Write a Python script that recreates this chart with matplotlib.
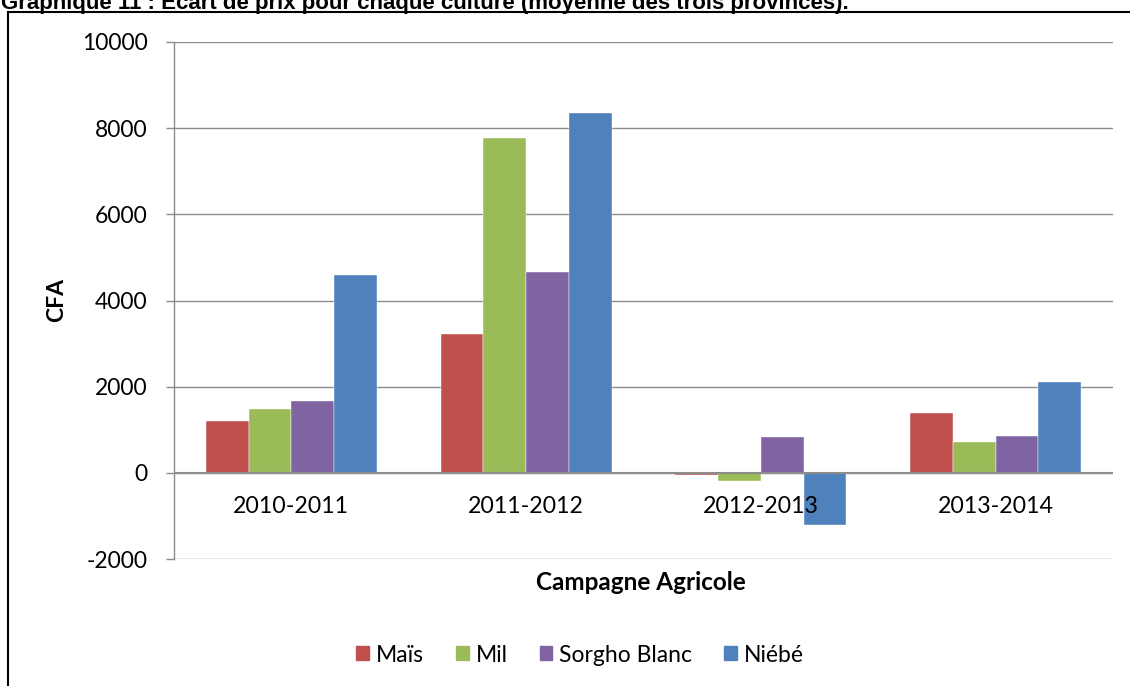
import matplotlib
matplotlib.use("Agg")
import matplotlib.pyplot as plt
import numpy as np
from matplotlib.patches import Rectangle
from matplotlib.lines import Line2D

categories = ["2010-2011", "2011-2012", "2012-2013", "2013-2014"]
series_names = ["Maïs", "Mil", "Sorgho Blanc", "Niébé"]
mais = [1210, 3230, -60, 1400]
mil = [1490, 7770, -200, 720]
sorgho = [1670, 4660, 840, 860]
niebe = [4590, 8360, -1200, 2110]
colors = ["#C0504D", "#9BBB59", "#8064A2", "#4F81BD"]
yticks = [-2000, 0, 2000, 4000, 6000, 8000, 10000]

W, H = 1130, 686
fig = plt.figure(figsize=(W / 100, H / 100), dpi=100)
plt.rcParams['font.family'] = ['Lato', 'DejaVu Sans']

def fx(px):
    return px / W

def fy(py):
    return 1 - py / H

ax = fig.add_axes([fx(174), fy(559), fx(1113) - fx(174), fy(42) - fy(559)])

x = np.arange(len(categories))
bw = 0.182
data = [mais, mil, sorgho, niebe]
for i, (vals, c, name) in enumerate(zip(data, colors, series_names)):
    ax.bar(x + (i - 1.5) * bw, vals, width=bw, color=c, label=name, zorder=3,
           edgecolor='white', linewidth=0.3)

ax.set_xlim(-0.5, len(categories) - 0.5)
ax.set_ylim(-2000, 10000)
ax.set_yticks(yticks)
ax.set_yticklabels([str(t) for t in yticks], fontsize=16.5)
ax.yaxis.grid(True, color='#8C8C8C', linewidth=1.0, zorder=0)
ax.set_axisbelow(True)
ax.tick_params(axis='y', length=6, color='#8C8C8C', width=1.0, pad=13)
ax.set_xticks([])
for s in ['top', 'right', 'bottom']:
    ax.spines[s].set_visible(False)
ax.spines['left'].set_color('#8C8C8C')
ax.spines['left'].set_linewidth(1.0)
ax.axhline(0, color='#8C8C8C', linewidth=1.5, zorder=4)

for xi, cat in zip(x, categories):
    ax.text(xi, -790, cat, ha='center', va='center', fontsize=16.7, zorder=5)

fig.text(fx(57), fy(300), "CFA", rotation=90, ha='center', va='center',
         fontsize=16.5, fontweight='bold')
fig.text(fx(641), fy(583), "Campagne Agricole", ha='center', va='center',
         fontsize=17.5, fontweight='bold')

handles = [Rectangle((0, 0), 1, 1, color=c) for c in colors]
fig.legend(handles, series_names, loc='center', bbox_to_anchor=(fx(580), fy(655)),
           ncol=4, frameon=False, fontsize=16.5, handlelength=0.55, handleheight=0.55,
           handletextpad=0.3, columnspacing=1.4)

fig.text(fx(1), fy(9), "Graphique 11 : Ecart de prix pour chaque culture (moyenne des trois provinces).",
         ha='left', va='baseline', fontsize=16, fontweight='bold',
         family=['Liberation Sans', 'DejaVu Sans'])

fig.add_artist(Line2D([fx(8), fx(8)], [fy(12), 0], transform=fig.transFigure, color='black', linewidth=1.5))
fig.add_artist(Line2D([fx(8), 1], [fy(12), fy(12)], transform=fig.transFigure, color='black', linewidth=1.5))

fig.savefig("out.png", dpi=100)
